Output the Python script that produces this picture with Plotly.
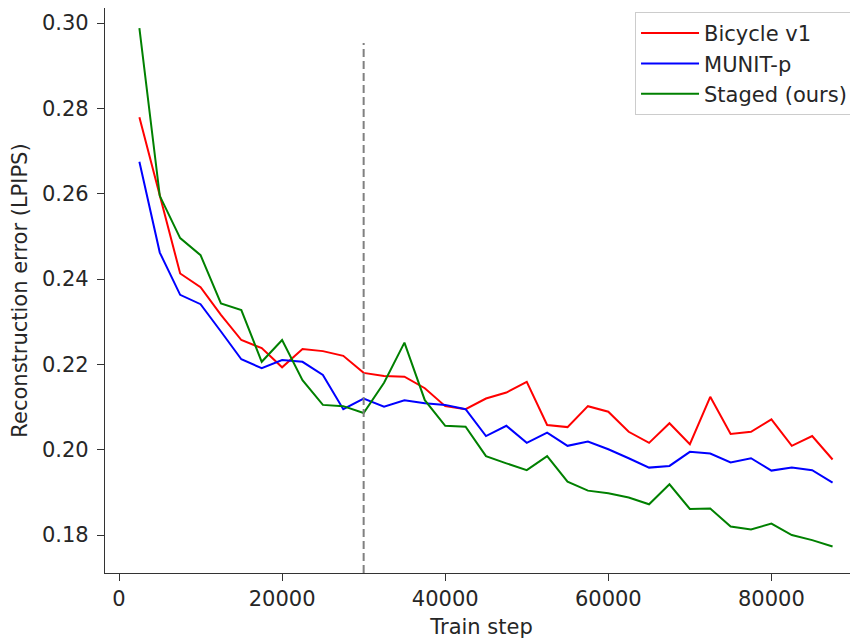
import plotly.graph_objects as go

steps = [2500, 5000, 7500, 10000, 12500, 15000, 17500, 20000, 22500, 25000,
         27500, 30000, 32500, 35000, 37500, 40000, 42500, 45000, 47500, 50000,
         52500, 55000, 57500, 60000, 62500, 65000, 67500, 70000, 72500, 75000,
         77500, 80000, 82500, 85000, 87500]

bicycle_v1 = [0.2779, 0.2595, 0.2413, 0.2381, 0.2316, 0.2257, 0.2238, 0.2193, 0.2236, 0.2231,
              0.2220, 0.2180, 0.2173, 0.2171, 0.2144, 0.2102, 0.2095, 0.2120, 0.2134, 0.2159,
              0.2058, 0.2053, 0.2102, 0.2089, 0.2042, 0.2016, 0.2062, 0.2013, 0.2124, 0.2037,
              0.2042, 0.2071, 0.2009, 0.2032, 0.1977]

munit_p = [0.2675, 0.2462, 0.2363, 0.2341, 0.2277, 0.2212, 0.2191, 0.2210, 0.2206, 0.2175,
           0.2095, 0.2120, 0.2101, 0.2116, 0.2109, 0.2105, 0.2095, 0.2032, 0.2056, 0.2016,
           0.2040, 0.2009, 0.2019, 0.2001, 0.1980, 0.1958, 0.1962, 0.1995, 0.1991, 0.1970,
           0.1980, 0.1951, 0.1958, 0.1952, 0.1923]

staged_ours = [0.2988, 0.2595, 0.2496, 0.2456, 0.2343, 0.2327, 0.2206, 0.2257, 0.2163, 0.2105,
               0.2102, 0.2086, 0.2157, 0.2251, 0.2116, 0.2056, 0.2054, 0.1985, 0.1968, 0.1952,
               0.1985, 0.1925, 0.1904, 0.1898, 0.1888, 0.1872, 0.1919, 0.1861, 0.1862, 0.1820,
               0.1813, 0.1827, 0.1800, 0.1788, 0.1773]

series_names = ["Bicycle v1", "MUNIT-p", "Staged (ours)"]
series_colors = ["#ff0000", "#0000ff", "#008000"]

stage_switch_step = 30000
stage_line_top = 0.2953

x_ticks = [0, 20000, 40000, 60000, 80000]
y_ticks = [0.18, 0.20, 0.22, 0.24, 0.26, 0.28, 0.30]

FONT = "DejaVu Sans"
TXT = "#262626"

fig = go.Figure()
for name, vals, col in zip(series_names, [bicycle_v1, munit_p, staged_ours], series_colors):
    fig.add_trace(go.Scatter(x=steps, y=vals, mode="lines", name=name,
                             line=dict(color=col, width=2)))

fig.add_shape(type="line", xref="x", yref="y",
              x0=stage_switch_step, x1=stage_switch_step, y0=0.1711, y1=stage_line_top,
              line=dict(color="#808080", width=2, dash="8px,4px"))

fig.update_layout(
    width=850, height=632,
    margin=dict(l=97, r=0, t=0, b=67, autoexpand=False),
    paper_bgcolor="white", plot_bgcolor="white",
    font=dict(family=FONT, size=21, color=TXT),
    showlegend=True,
    legend=dict(x=0.7039, y=0.9930, xanchor="left", yanchor="top",
                bgcolor="rgba(255,255,255,0.8)", bordercolor="#cccccc", borderwidth=1,
                font=dict(family=FONT, size=21, color=TXT),
                itemwidth=58, tracegroupgap=0),
)
fig.update_xaxes(range=[-1717, 90618], tickvals=x_ticks, ticktext=[str(v) for v in x_ticks],
                 showgrid=False, zeroline=False, showline=True, linecolor="#333333", linewidth=1.3,
                 mirror=True, ticks="outside", ticklen=7, tickcolor="#333333", automargin=False,
                 tickfont=dict(size=21),
                 title=dict(text="Train step", standoff=8, font=dict(size=21)))
fig.update_yaxes(range=[0.1711, 0.30352], tickvals=y_ticks, ticktext=["%.2f" % v for v in y_ticks],
                 showgrid=False, zeroline=False, showline=True, linecolor="#333333", linewidth=1.3,
                 mirror=False, ticks="outside", ticklen=7, tickcolor="#333333", automargin=False,
                 tickfont=dict(size=21), ticklabelstandoff=4,
                 title=dict(text="Reconstruction error (LPIPS)", standoff=14, font=dict(size=21)))

fig.write_html("out.html")
